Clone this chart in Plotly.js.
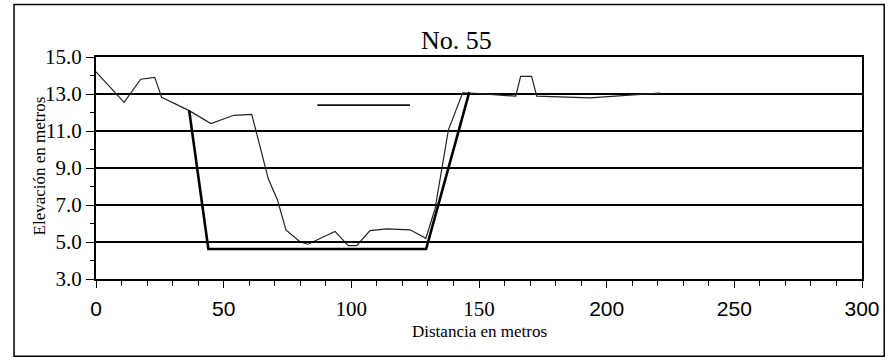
<!DOCTYPE html>
<html>
<head>
<meta charset="utf-8">
<script src="https://cdn.plot.ly/plotly-3.0.1.min.js"></script>
<style>html,body{margin:0;padding:0;background:#fff;}#chart{width:890px;height:360px;}</style>
</head>
<body>
<div id="chart"></div>
<script>
// Ground profile (thin line)
const groundX = [0, 11, 17.5, 23, 25.7, 36.5, 45, 54, 61, 67.5, 71, 74.4, 80, 83, 93.6, 98.8, 102.1, 107.3, 113.8, 123, 129.2, 132.8, 138, 143.6, 150.4, 164.4, 166.3, 170.6, 172.6, 185.6, 193.5, 210.4, 220.9];
const groundY = [14.2, 12.55, 13.8, 13.9, 12.82, 12.1, 11.4, 11.85, 11.9, 8.4, 7.3, 5.65, 5.0, 4.88, 5.57, 4.8, 4.8, 5.62, 5.71, 5.66, 5.2, 6.8, 11.05, 13.06, 13.02, 12.88, 13.95, 13.95, 12.88, 12.81, 12.79, 12.95, 13.05];
// Design channel (thick line)
const channelX = [36.5, 44, 129.3, 146.2];
const channelY = [12.1, 4.62, 4.62, 13.1];
// Water level in channel
const waterX = [43.6, 129.8];
const waterY = [5.0, 5.0];
// Upper short level line
const upperX = [86.7, 123];
const upperY = [12.4, 12.4];
// Axis ticks
const xTickVals = [0, 50, 100, 150, 200, 250, 300];
const xTickFonts = ["Liberation Sans", "Liberation Sans", "Liberation Serif", "Liberation Serif", "Liberation Sans", "Liberation Sans", "Liberation Sans"];
const yTickVals = [3, 5, 7, 9, 11, 13, 15];
const yTickText = ["3.0", "5.0", "7.0", "9.0", "11.0", "13.0", "15.0"];

const xTickText = xTickVals.map((v, i) => '<span style="font-family:' + xTickFonts[i] + '">' + v + '</span>');
const SERIF = 'Liberation Serif, Times New Roman, serif';

const traces = [
  {x: groundX, y: groundY, mode: 'lines', line: {color: '#222', width: 1.2}, hoverinfo: 'skip'},
  {x: channelX, y: channelY, mode: 'lines', line: {color: '#000', width: 2.6}, hoverinfo: 'skip'},
  {x: waterX, y: waterY, mode: 'lines', line: {color: '#000', width: 2.2}, hoverinfo: 'skip'},
  {x: upperX, y: upperY, mode: 'lines', line: {color: '#111', width: 1.6}, hoverinfo: 'skip'}
];

const layout = {
  width: 890, height: 360,
  margin: {l: 96, r: 28, t: 57, b: 81, pad: 0},
  paper_bgcolor: '#fff', plot_bgcolor: '#fff',
  showlegend: false,
  font: {family: SERIF, color: '#000'},
  xaxis: {
    range: [0, 300], tickvals: xTickVals, ticktext: xTickText,
    ticks: 'outside', ticklen: 7, tickwidth: 1, tickcolor: '#000',
    minor: {dtick: 10, ticks: 'outside', ticklen: 5, tickwidth: 1, tickcolor: '#000', showgrid: false},
    showgrid: false, zeroline: false,
    showline: true, linecolor: '#000', linewidth: 2, mirror: true,
    tickfont: {size: 21, family: SERIF, color: '#000'},
    ticklabelstandoff: 3
  },
  yaxis: {
    range: [3, 15], tickvals: yTickVals, ticktext: yTickText,
    ticks: 'outside', ticklen: 8, tickwidth: 1, tickcolor: '#000',
    minor: {dtick: 1, ticks: 'outside', ticklen: 4, tickwidth: 1, tickcolor: '#000', showgrid: false},
    showgrid: true, gridcolor: '#000', gridwidth: 1.3,
    zeroline: false,
    showline: true, linecolor: '#000', linewidth: 2, mirror: true,
    tickfont: {size: 21, family: SERIF, color: '#000'}
  },
  annotations: [
    {text: 'No. 55', xref: 'paper', yref: 'paper', x: 0.471, y: 1.075, showarrow: false,
     font: {size: 26, family: SERIF, color: '#000'}, xanchor: 'center', yanchor: 'middle'},
    {text: 'Distancia en metros', xref: 'paper', yref: 'paper', x: 0.5, y: -0.238, showarrow: false,
     font: {size: 17, family: SERIF, color: '#000'}, xanchor: 'center', yanchor: 'middle'},
    {text: 'Elevación en metros', xref: 'paper', yref: 'paper', x: -0.0744, y: 0.507, showarrow: false, textangle: -90,
     font: {size: 17, family: SERIF, color: '#000'}, xanchor: 'center', yanchor: 'middle'}
  ],
  shapes: [
    {type: 'rect', xref: 'paper', yref: 'paper', x0: -0.107, x1: 1.029, y0: -0.3477, y1: 1.2368,
     line: {color: '#000', width: 1.5}, fillcolor: 'rgba(0,0,0,0)', layer: 'below'}
  ]
};

Plotly.newPlot('chart', traces, layout, {staticPlot: true, displayModeBar: false});
</script>
</body>
</html>
